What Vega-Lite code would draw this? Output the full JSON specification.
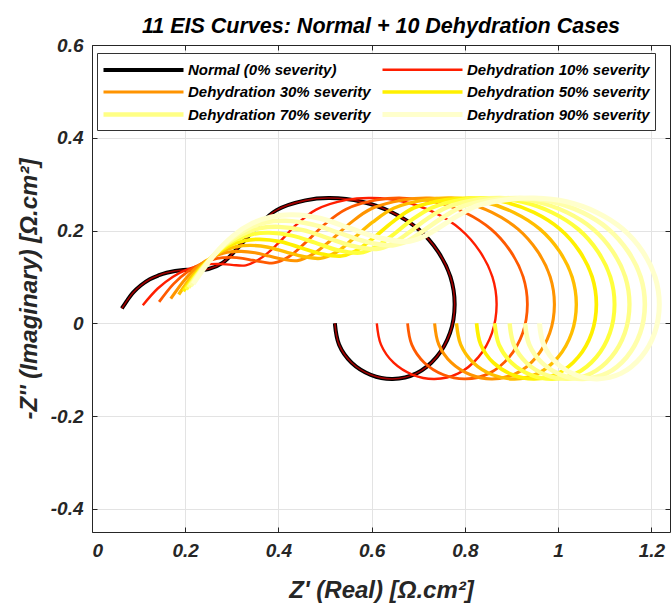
{
"$schema": "https://vega.github.io/schema/vega-lite/v6.json",
"width": 578, "height": 487,
"autosize": {"type": "none"},
"padding": {"left": 92, "top": 45, "right": 1, "bottom": 73},
"background": "white",
"title": {"text": "11 EIS Curves: Normal + 10 Dehydration Cases", "font": "Liberation Sans", "fontSize": 21.5, "fontStyle": "italic", "fontWeight": "bold", "anchor": "middle", "offset": -1, "color": "black"},
"config": {
 "view": {"stroke": null},
 "axis": {"labelFont": "Liberation Sans", "labelFontSize": 19, "labelFontStyle": "italic", "labelFontWeight": "bold", "labelColor": "#262626", "titleFont": "Liberation Sans", "titleFontSize": 24, "titleFontStyle": "italic", "titleFontWeight": "bold", "titleColor": "#262626", "domainColor": "#262626", "tickColor": "#262626", "tickSize": -5, "gridColor": "#e3e3e3", "gridWidth": 1, "labelPadding": 14, "labelExpr": "toString(round(datum.value*10)/10)"}
},
"data": {"values": [
{"s":"N","i":0,"x":0.064,"y":0.032},{"s":"N","i":1,"x":0.076,"y":0.050},{"s":"N","i":2,"x":0.088,"y":0.066},{"s":"N","i":3,"x":0.105,"y":0.082},{"s":"N","i":4,"x":0.124,"y":0.095},{"s":"N","i":5,"x":0.142,"y":0.103},{"s":"N","i":6,"x":0.160,"y":0.109},{"s":"N","i":7,"x":0.196,"y":0.115},{"s":"N","i":8,"x":0.224,"y":0.115},{"s":"N","i":9,"x":0.250,"y":0.117},{"s":"N","i":10,"x":0.281,"y":0.131},{"s":"N","i":11,"x":0.315,"y":0.165},{"s":"N","i":12,"x":0.354,"y":0.208},{"s":"N","i":13,"x":0.396,"y":0.244},{"s":"N","i":14,"x":0.458,"y":0.265},{"s":"N","i":15,"x":0.510,"y":0.270},{"s":"N","i":16,"x":0.579,"y":0.262},{"s":"N","i":17,"x":0.644,"y":0.239},{"s":"N","i":18,"x":0.700,"y":0.203},{"s":"N","i":19,"x":0.742,"y":0.155},{"s":"N","i":20,"x":0.769,"y":0.100},{"s":"N","i":21,"x":0.778,"y":0.040},{"s":"N","i":22,"x":0.768,"y":-0.021},{"s":"N","i":23,"x":0.739,"y":-0.073},{"s":"N","i":24,"x":0.696,"y":-0.108},{"s":"N","i":25,"x":0.645,"y":-0.120},{"s":"N","i":26,"x":0.598,"y":-0.111},{"s":"N","i":27,"x":0.557,"y":-0.085},{"s":"N","i":28,"x":0.530,"y":-0.046},{"s":"N","i":29,"x":0.521,"y":0.000},
{"s":"d0","i":0,"x":0.064,"y":0.032},{"s":"d0","i":1,"x":0.076,"y":0.050},{"s":"d0","i":2,"x":0.088,"y":0.066},{"s":"d0","i":3,"x":0.105,"y":0.082},{"s":"d0","i":4,"x":0.124,"y":0.095},{"s":"d0","i":5,"x":0.142,"y":0.103},{"s":"d0","i":6,"x":0.160,"y":0.109},{"s":"d0","i":7,"x":0.196,"y":0.115},{"s":"d0","i":8,"x":0.224,"y":0.115},{"s":"d0","i":9,"x":0.250,"y":0.117},{"s":"d0","i":10,"x":0.281,"y":0.131},{"s":"d0","i":11,"x":0.315,"y":0.165},{"s":"d0","i":12,"x":0.354,"y":0.208},{"s":"d0","i":13,"x":0.396,"y":0.244},{"s":"d0","i":14,"x":0.458,"y":0.265},{"s":"d0","i":15,"x":0.510,"y":0.270},{"s":"d0","i":16,"x":0.579,"y":0.262},{"s":"d0","i":17,"x":0.644,"y":0.239},{"s":"d0","i":18,"x":0.700,"y":0.203},{"s":"d0","i":19,"x":0.742,"y":0.155},{"s":"d0","i":20,"x":0.769,"y":0.100},{"s":"d0","i":21,"x":0.778,"y":0.040},{"s":"d0","i":22,"x":0.768,"y":-0.021},{"s":"d0","i":23,"x":0.739,"y":-0.073},{"s":"d0","i":24,"x":0.696,"y":-0.108},{"s":"d0","i":25,"x":0.645,"y":-0.120},{"s":"d0","i":26,"x":0.598,"y":-0.111},{"s":"d0","i":27,"x":0.557,"y":-0.085},{"s":"d0","i":28,"x":0.530,"y":-0.046},{"s":"d0","i":29,"x":0.521,"y":0.000},
{"s":"d10","i":0,"x":0.109,"y":0.039},{"s":"d10","i":1,"x":0.141,"y":0.075},{"s":"d10","i":2,"x":0.173,"y":0.100},{"s":"d10","i":3,"x":0.206,"y":0.117},{"s":"d10","i":4,"x":0.238,"y":0.126},{"s":"d10","i":5,"x":0.270,"y":0.128},{"s":"d10","i":6,"x":0.300,"y":0.126},{"s":"d10","i":7,"x":0.330,"y":0.125},{"s":"d10","i":8,"x":0.362,"y":0.140},{"s":"d10","i":9,"x":0.398,"y":0.171},{"s":"d10","i":10,"x":0.438,"y":0.212},{"s":"d10","i":11,"x":0.481,"y":0.245},{"s":"d10","i":12,"x":0.546,"y":0.266},{"s":"d10","i":13,"x":0.600,"y":0.270},{"s":"d10","i":14,"x":0.669,"y":0.262},{"s":"d10","i":15,"x":0.734,"y":0.239},{"s":"d10","i":16,"x":0.790,"y":0.203},{"s":"d10","i":17,"x":0.832,"y":0.155},{"s":"d10","i":18,"x":0.859,"y":0.100},{"s":"d10","i":19,"x":0.868,"y":0.040},{"s":"d10","i":20,"x":0.858,"y":-0.021},{"s":"d10","i":21,"x":0.829,"y":-0.073},{"s":"d10","i":22,"x":0.786,"y":-0.108},{"s":"d10","i":23,"x":0.735,"y":-0.120},{"s":"d10","i":24,"x":0.688,"y":-0.111},{"s":"d10","i":25,"x":0.647,"y":-0.085},{"s":"d10","i":26,"x":0.620,"y":-0.046},{"s":"d10","i":27,"x":0.611,"y":0.000},
{"s":"d20","i":0,"x":0.144,"y":0.046},{"s":"d20","i":1,"x":0.175,"y":0.085},{"s":"d20","i":2,"x":0.206,"y":0.112},{"s":"d20","i":3,"x":0.238,"y":0.130},{"s":"d20","i":4,"x":0.269,"y":0.140},{"s":"d20","i":5,"x":0.300,"y":0.142},{"s":"d20","i":6,"x":0.323,"y":0.140},{"s":"d20","i":7,"x":0.345,"y":0.136},{"s":"d20","i":8,"x":0.368,"y":0.132},{"s":"d20","i":9,"x":0.390,"y":0.130},{"s":"d20","i":10,"x":0.423,"y":0.144},{"s":"d20","i":11,"x":0.459,"y":0.175},{"s":"d20","i":12,"x":0.500,"y":0.214},{"s":"d20","i":13,"x":0.545,"y":0.246},{"s":"d20","i":14,"x":0.611,"y":0.266},{"s":"d20","i":15,"x":0.666,"y":0.270},{"s":"d20","i":16,"x":0.735,"y":0.262},{"s":"d20","i":17,"x":0.800,"y":0.239},{"s":"d20","i":18,"x":0.856,"y":0.203},{"s":"d20","i":19,"x":0.898,"y":0.155},{"s":"d20","i":20,"x":0.925,"y":0.100},{"s":"d20","i":21,"x":0.934,"y":0.040},{"s":"d20","i":22,"x":0.924,"y":-0.021},{"s":"d20","i":23,"x":0.895,"y":-0.073},{"s":"d20","i":24,"x":0.852,"y":-0.108},{"s":"d20","i":25,"x":0.801,"y":-0.120},{"s":"d20","i":26,"x":0.754,"y":-0.111},{"s":"d20","i":27,"x":0.713,"y":-0.085},{"s":"d20","i":28,"x":0.686,"y":-0.046},{"s":"d20","i":29,"x":0.677,"y":0.000},
{"s":"d30","i":0,"x":0.169,"y":0.053},{"s":"d30","i":1,"x":0.199,"y":0.094},{"s":"d30","i":2,"x":0.229,"y":0.124},{"s":"d30","i":3,"x":0.260,"y":0.143},{"s":"d30","i":4,"x":0.290,"y":0.153},{"s":"d30","i":5,"x":0.320,"y":0.155},{"s":"d30","i":6,"x":0.350,"y":0.152},{"s":"d30","i":7,"x":0.380,"y":0.145},{"s":"d30","i":8,"x":0.410,"y":0.138},{"s":"d30","i":9,"x":0.440,"y":0.135},{"s":"d30","i":10,"x":0.474,"y":0.149},{"s":"d30","i":11,"x":0.511,"y":0.178},{"s":"d30","i":12,"x":0.554,"y":0.216},{"s":"d30","i":13,"x":0.599,"y":0.247},{"s":"d30","i":14,"x":0.667,"y":0.266},{"s":"d30","i":15,"x":0.724,"y":0.270},{"s":"d30","i":16,"x":0.793,"y":0.262},{"s":"d30","i":17,"x":0.858,"y":0.239},{"s":"d30","i":18,"x":0.914,"y":0.203},{"s":"d30","i":19,"x":0.956,"y":0.155},{"s":"d30","i":20,"x":0.983,"y":0.100},{"s":"d30","i":21,"x":0.992,"y":0.040},{"s":"d30","i":22,"x":0.982,"y":-0.021},{"s":"d30","i":23,"x":0.953,"y":-0.073},{"s":"d30","i":24,"x":0.910,"y":-0.108},{"s":"d30","i":25,"x":0.859,"y":-0.120},{"s":"d30","i":26,"x":0.812,"y":-0.111},{"s":"d30","i":27,"x":0.771,"y":-0.085},{"s":"d30","i":28,"x":0.744,"y":-0.046},{"s":"d30","i":29,"x":0.735,"y":0.000},
{"s":"d40","i":0,"x":0.186,"y":0.062},{"s":"d40","i":1,"x":0.217,"y":0.105},{"s":"d40","i":2,"x":0.248,"y":0.135},{"s":"d40","i":3,"x":0.278,"y":0.155},{"s":"d40","i":4,"x":0.309,"y":0.165},{"s":"d40","i":5,"x":0.340,"y":0.168},{"s":"d40","i":6,"x":0.378,"y":0.164},{"s":"d40","i":7,"x":0.415,"y":0.154},{"s":"d40","i":8,"x":0.453,"y":0.144},{"s":"d40","i":9,"x":0.490,"y":0.140},{"s":"d40","i":10,"x":0.524,"y":0.153},{"s":"d40","i":11,"x":0.560,"y":0.182},{"s":"d40","i":12,"x":0.602,"y":0.218},{"s":"d40","i":13,"x":0.647,"y":0.248},{"s":"d40","i":14,"x":0.715,"y":0.266},{"s":"d40","i":15,"x":0.771,"y":0.270},{"s":"d40","i":16,"x":0.840,"y":0.262},{"s":"d40","i":17,"x":0.905,"y":0.239},{"s":"d40","i":18,"x":0.961,"y":0.203},{"s":"d40","i":19,"x":1.003,"y":0.155},{"s":"d40","i":20,"x":1.030,"y":0.100},{"s":"d40","i":21,"x":1.039,"y":0.040},{"s":"d40","i":22,"x":1.029,"y":-0.021},{"s":"d40","i":23,"x":1.000,"y":-0.073},{"s":"d40","i":24,"x":0.957,"y":-0.108},{"s":"d40","i":25,"x":0.906,"y":-0.120},{"s":"d40","i":26,"x":0.859,"y":-0.111},{"s":"d40","i":27,"x":0.818,"y":-0.085},{"s":"d40","i":28,"x":0.791,"y":-0.046},{"s":"d40","i":29,"x":0.782,"y":0.000},
{"s":"d50","i":0,"x":0.196,"y":0.069},{"s":"d50","i":1,"x":0.229,"y":0.114},{"s":"d50","i":2,"x":0.262,"y":0.146},{"s":"d50","i":3,"x":0.294,"y":0.167},{"s":"d50","i":4,"x":0.327,"y":0.178},{"s":"d50","i":5,"x":0.360,"y":0.181},{"s":"d50","i":6,"x":0.404,"y":0.176},{"s":"d50","i":7,"x":0.448,"y":0.163},{"s":"d50","i":8,"x":0.491,"y":0.150},{"s":"d50","i":9,"x":0.535,"y":0.145},{"s":"d50","i":10,"x":0.569,"y":0.158},{"s":"d50","i":11,"x":0.605,"y":0.185},{"s":"d50","i":12,"x":0.647,"y":0.220},{"s":"d50","i":13,"x":0.691,"y":0.249},{"s":"d50","i":14,"x":0.758,"y":0.266},{"s":"d50","i":15,"x":0.814,"y":0.270},{"s":"d50","i":16,"x":0.883,"y":0.262},{"s":"d50","i":17,"x":0.948,"y":0.239},{"s":"d50","i":18,"x":1.004,"y":0.203},{"s":"d50","i":19,"x":1.046,"y":0.155},{"s":"d50","i":20,"x":1.073,"y":0.100},{"s":"d50","i":21,"x":1.082,"y":0.040},{"s":"d50","i":22,"x":1.072,"y":-0.021},{"s":"d50","i":23,"x":1.043,"y":-0.073},{"s":"d50","i":24,"x":1.000,"y":-0.108},{"s":"d50","i":25,"x":0.949,"y":-0.120},{"s":"d50","i":26,"x":0.902,"y":-0.111},{"s":"d50","i":27,"x":0.861,"y":-0.085},{"s":"d50","i":28,"x":0.834,"y":-0.046},{"s":"d50","i":29,"x":0.825,"y":0.000},
{"s":"d60","i":0,"x":0.202,"y":0.073},{"s":"d60","i":1,"x":0.238,"y":0.122},{"s":"d60","i":2,"x":0.273,"y":0.157},{"s":"d60","i":3,"x":0.309,"y":0.180},{"s":"d60","i":4,"x":0.344,"y":0.192},{"s":"d60","i":5,"x":0.380,"y":0.195},{"s":"d60","i":6,"x":0.429,"y":0.189},{"s":"d60","i":7,"x":0.478,"y":0.174},{"s":"d60","i":8,"x":0.526,"y":0.158},{"s":"d60","i":9,"x":0.575,"y":0.152},{"s":"d60","i":10,"x":0.608,"y":0.164},{"s":"d60","i":11,"x":0.645,"y":0.190},{"s":"d60","i":12,"x":0.686,"y":0.223},{"s":"d60","i":13,"x":0.731,"y":0.250},{"s":"d60","i":14,"x":0.797,"y":0.267},{"s":"d60","i":15,"x":0.853,"y":0.270},{"s":"d60","i":16,"x":0.922,"y":0.262},{"s":"d60","i":17,"x":0.987,"y":0.239},{"s":"d60","i":18,"x":1.043,"y":0.203},{"s":"d60","i":19,"x":1.085,"y":0.155},{"s":"d60","i":20,"x":1.112,"y":0.100},{"s":"d60","i":21,"x":1.121,"y":0.040},{"s":"d60","i":22,"x":1.111,"y":-0.021},{"s":"d60","i":23,"x":1.082,"y":-0.073},{"s":"d60","i":24,"x":1.039,"y":-0.108},{"s":"d60","i":25,"x":0.988,"y":-0.120},{"s":"d60","i":26,"x":0.941,"y":-0.111},{"s":"d60","i":27,"x":0.900,"y":-0.085},{"s":"d60","i":28,"x":0.873,"y":-0.046},{"s":"d60","i":29,"x":0.864,"y":0.000},
{"s":"d70","i":0,"x":0.207,"y":0.077},{"s":"d70","i":1,"x":0.246,"y":0.130},{"s":"d70","i":2,"x":0.284,"y":0.168},{"s":"d70","i":3,"x":0.323,"y":0.192},{"s":"d70","i":4,"x":0.361,"y":0.205},{"s":"d70","i":5,"x":0.400,"y":0.208},{"s":"d70","i":6,"x":0.453,"y":0.201},{"s":"d70","i":7,"x":0.505,"y":0.184},{"s":"d70","i":8,"x":0.558,"y":0.167},{"s":"d70","i":9,"x":0.610,"y":0.160},{"s":"d70","i":10,"x":0.643,"y":0.171},{"s":"d70","i":11,"x":0.679,"y":0.195},{"s":"d70","i":12,"x":0.720,"y":0.226},{"s":"d70","i":13,"x":0.764,"y":0.251},{"s":"d70","i":14,"x":0.830,"y":0.267},{"s":"d70","i":15,"x":0.885,"y":0.270},{"s":"d70","i":16,"x":0.954,"y":0.262},{"s":"d70","i":17,"x":1.019,"y":0.239},{"s":"d70","i":18,"x":1.075,"y":0.203},{"s":"d70","i":19,"x":1.117,"y":0.155},{"s":"d70","i":20,"x":1.144,"y":0.100},{"s":"d70","i":21,"x":1.153,"y":0.040},{"s":"d70","i":22,"x":1.143,"y":-0.021},{"s":"d70","i":23,"x":1.114,"y":-0.073},{"s":"d70","i":24,"x":1.071,"y":-0.108},{"s":"d70","i":25,"x":1.020,"y":-0.120},{"s":"d70","i":26,"x":0.973,"y":-0.111},{"s":"d70","i":27,"x":0.932,"y":-0.085},{"s":"d70","i":28,"x":0.905,"y":-0.046},{"s":"d70","i":29,"x":0.896,"y":0.000},
{"s":"d80","i":0,"x":0.212,"y":0.081},{"s":"d80","i":1,"x":0.253,"y":0.137},{"s":"d80","i":2,"x":0.293,"y":0.178},{"s":"d80","i":3,"x":0.334,"y":0.204},{"s":"d80","i":4,"x":0.374,"y":0.218},{"s":"d80","i":5,"x":0.415,"y":0.221},{"s":"d80","i":6,"x":0.473,"y":0.213},{"s":"d80","i":7,"x":0.530,"y":0.195},{"s":"d80","i":8,"x":0.588,"y":0.176},{"s":"d80","i":9,"x":0.645,"y":0.168},{"s":"d80","i":10,"x":0.678,"y":0.178},{"s":"d80","i":11,"x":0.713,"y":0.201},{"s":"d80","i":12,"x":0.754,"y":0.229},{"s":"d80","i":13,"x":0.798,"y":0.253},{"s":"d80","i":14,"x":0.863,"y":0.267},{"s":"d80","i":15,"x":0.918,"y":0.270},{"s":"d80","i":16,"x":0.987,"y":0.262},{"s":"d80","i":17,"x":1.052,"y":0.239},{"s":"d80","i":18,"x":1.108,"y":0.203},{"s":"d80","i":19,"x":1.150,"y":0.155},{"s":"d80","i":20,"x":1.177,"y":0.100},{"s":"d80","i":21,"x":1.186,"y":0.040},{"s":"d80","i":22,"x":1.176,"y":-0.021},{"s":"d80","i":23,"x":1.147,"y":-0.073},{"s":"d80","i":24,"x":1.104,"y":-0.108},{"s":"d80","i":25,"x":1.053,"y":-0.120},{"s":"d80","i":26,"x":1.006,"y":-0.111},{"s":"d80","i":27,"x":0.965,"y":-0.085},{"s":"d80","i":28,"x":0.938,"y":-0.046},{"s":"d80","i":29,"x":0.929,"y":0.000},
{"s":"d90","i":0,"x":0.217,"y":0.085},{"s":"d90","i":1,"x":0.260,"y":0.145},{"s":"d90","i":2,"x":0.302,"y":0.188},{"s":"d90","i":3,"x":0.345,"y":0.216},{"s":"d90","i":4,"x":0.387,"y":0.230},{"s":"d90","i":5,"x":0.430,"y":0.234},{"s":"d90","i":6,"x":0.491,"y":0.226},{"s":"d90","i":7,"x":0.553,"y":0.205},{"s":"d90","i":8,"x":0.614,"y":0.185},{"s":"d90","i":9,"x":0.675,"y":0.176},{"s":"d90","i":10,"x":0.708,"y":0.185},{"s":"d90","i":11,"x":0.744,"y":0.206},{"s":"d90","i":12,"x":0.785,"y":0.232},{"s":"d90","i":13,"x":0.828,"y":0.254},{"s":"d90","i":14,"x":0.894,"y":0.267},{"s":"d90","i":15,"x":0.949,"y":0.270},{"s":"d90","i":16,"x":1.018,"y":0.262},{"s":"d90","i":17,"x":1.083,"y":0.239},{"s":"d90","i":18,"x":1.139,"y":0.203},{"s":"d90","i":19,"x":1.181,"y":0.155},{"s":"d90","i":20,"x":1.208,"y":0.100},{"s":"d90","i":21,"x":1.217,"y":0.040},{"s":"d90","i":22,"x":1.207,"y":-0.021},{"s":"d90","i":23,"x":1.178,"y":-0.073},{"s":"d90","i":24,"x":1.135,"y":-0.108},{"s":"d90","i":25,"x":1.084,"y":-0.120},{"s":"d90","i":26,"x":1.037,"y":-0.111},{"s":"d90","i":27,"x":0.996,"y":-0.085},{"s":"d90","i":28,"x":0.969,"y":-0.046},{"s":"d90","i":29,"x":0.960,"y":0.000}
]},
"layer": [
 {"mark": {"type": "line", "interpolate": "catmull-rom", "clip": true},
  "encoding": {
   "x": {"field": "x", "type": "quantitative", "scale": {"domain": [0, 1.24], "nice": false, "zero": false}, "axis": {"orient": "bottom", "values": [0, 0.2, 0.4, 0.6, 0.8, 1, 1.2], "title": "Z' (Real) [Ω.cm²]", "titlePadding": 18}},
   "y": {"field": "y", "type": "quantitative", "scale": {"domain": [-0.45, 0.6], "nice": false, "zero": false}, "axis": {"orient": "left", "values": [-0.4, -0.2, 0, 0.2, 0.4, 0.6], "title": "-Z'' (Imaginary) [Ω.cm²]", "titlePadding": 9}},
   "order": {"field": "i", "type": "quantitative"},
   "color": {"field": "s", "type": "nominal",
     "scale": {"domain": ["N","d0","d10","d20","d30","d40","d50","d60","d70","d80","d90"], "range": ["#000000","#a30000","#ff1e00","#ff5a00","#ff9400","#ffbe00","#fff000","#ffff3c","#ffff85","#ffffaa","#ffffcc"]},
     "legend": {"values": ["N","d10","d30","d50","d70","d90"], "orient": "none", "legendX": 5, "legendY": 8, "direction": "horizontal", "columns": 2, "symbolType": "M0,0H8", "symbolSize": 400, "symbolOffset": -11, "title": null, "labelExpr": "datum.value == 'N' ? 'Normal (0% severity)' : 'Dehydration ' + slice(datum.value, 1) + '% severity'", "strokeColor": "#333333", "fillColor": "white", "padding": 5, "rowPadding": 2, "columnPadding": 1, "labelFont": "Liberation Sans", "labelFontSize": 15, "labelFontStyle": "italic", "labelFontWeight": "bold", "labelColor": "black", "labelOffset": 72, "labelLimit": 400}},
   "strokeWidth": {"field": "s", "type": "nominal",
     "scale": {"type": "ordinal", "domain": ["N","d0","d10","d20","d30","d40","d50","d60","d70","d80","d90"], "range": [4, 1.6, 2.4, 2.8, 3.1, 3.4, 3.7, 4, 4.3, 4.6, 5]},
     "legend": {"values": ["N","d10","d30","d50","d70","d90"], "orient": "none", "legendX": 5, "legendY": 8, "direction": "horizontal", "columns": 2, "symbolType": "M0,0H8", "symbolSize": 400, "symbolOffset": -11, "title": null, "labelExpr": "datum.value == 'N' ? 'Normal (0% severity)' : 'Dehydration ' + slice(datum.value, 1) + '% severity'", "strokeColor": "#333333", "fillColor": "white", "padding": 5, "rowPadding": 2, "columnPadding": 1, "labelFont": "Liberation Sans", "labelFontSize": 15, "labelFontStyle": "italic", "labelFontWeight": "bold", "labelColor": "black", "labelOffset": 72, "labelLimit": 400}}
  }},
 {"mark": {"type": "point", "opacity": 0},
  "encoding": {
   "x": {"field": "x", "type": "quantitative", "axis": {"orient": "top", "values": [0, 0.2, 0.4, 0.6, 0.8, 1, 1.2], "labels": false, "title": null, "grid": false}},
   "y": {"field": "y", "type": "quantitative", "axis": {"orient": "right", "values": [-0.4, -0.2, 0, 0.2, 0.4, 0.6], "labels": false, "title": null, "grid": false}}
  }}
],
"resolve": {"axis": {"x": "independent", "y": "independent"}}
}
